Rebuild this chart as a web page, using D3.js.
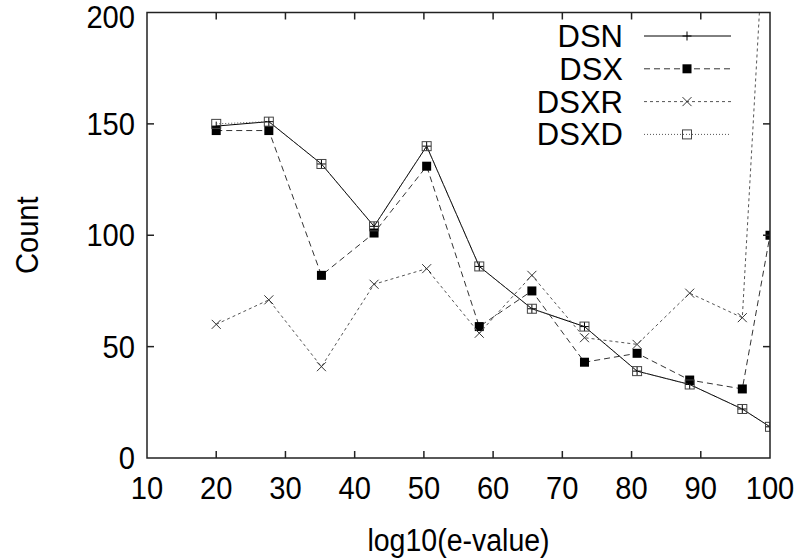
<!DOCTYPE html>
<html>
<head>
<meta charset="utf-8">
<script src="https://cdn.jsdelivr.net/npm/d3@7"></script>
<style>
  body { margin: 0; background: #fff; }
  text { font-family: "Liberation Sans", Arial, sans-serif; fill: #000; }
</style>
</head>
<body>
<div id="chart"></div>
<script>
// data
const xs = [20, 27.6, 35.2, 42.8, 50.4, 58, 65.6, 73.2, 80.8, 88.4, 96, 100];
const dsn  = [149, 151, 132, 104, 140, 86, 67, 59, 39, 33, 22, 14];
const dsx  = [147, 147, 82, 101, 131, 59, 75, 43, 47, 35, 31, 100];
const dsxr = [60, 71, 41, 78, 85, 56, 82, 54, 51, 74, 63, 285];
const dsxd = [150, 151, 132, 104, 140, 86, 67, 59, 39, 33, 22, 14];
const xTicks = [10, 20, 30, 40, 50, 60, 70, 80, 90, 100];
const yTicks = [0, 50, 100, 150, 200];

const W = 800, H = 558;
const m = { left: 147, right: 30, top: 12.5, bottom: 100 };

const svg = d3.select("#chart").append("svg")
    .attr("width", W)
    .attr("height", H);

const x = d3.scaleLinear().domain([10, 100]).range([m.left, W - m.right]);
const y = d3.scaleLinear().domain([0, 200]).range([H - m.bottom, m.top]);

svg.append("clipPath").attr("id", "clip")
    .append("rect")
    .attr("x", m.left).attr("y", m.top)
    .attr("width", x.range()[1] - m.left)
    .attr("height", y.range()[0] - m.top);

const series = [
    { name: "DSN",  vals: dsn,  color: "#000", dash: null,  mark: "plus" },
    { name: "DSX",  vals: dsx,  color: "#333", dash: "6,4", mark: "fill" },
    { name: "DSXR", vals: dsxr, color: "#555", dash: "3,3", mark: "cross" },
    { name: "DSXD", vals: dsxd, color: "#555", dash: "1,2", mark: "box" }
];

function marker(g, kind, cx, cy) {
    const s = 4.5;
    if (kind === "plus") {
        g.append("path").attr("d", `M${cx - s},${cy}H${cx + s}M${cx},${cy - s}V${cy + s}`)
            .attr("stroke", "#000").attr("stroke-width", 1).attr("fill", "none");
    } else if (kind === "fill") {
        g.append("rect").attr("x", cx - s).attr("y", cy - s).attr("width", 2 * s).attr("height", 2 * s)
            .attr("fill", "#000");
    } else if (kind === "cross") {
        g.append("path").attr("d", `M${cx - s},${cy - s}L${cx + s},${cy + s}M${cx - s},${cy + s}L${cx + s},${cy - s}`)
            .attr("stroke", "#333").attr("stroke-width", 1).attr("fill", "none");
    } else {
        g.append("rect").attr("x", cx - s).attr("y", cy - s).attr("width", 2 * s).attr("height", 2 * s)
            .attr("fill", "none").attr("stroke", "#444").attr("stroke-width", 1);
    }
}

const plot = svg.append("g").attr("clip-path", "url(#clip)");
const line = d3.line().x(d => x(d[0])).y(d => y(d[1]));

series.forEach(s => {
    const pts = xs.map((v, i) => [v, s.vals[i]]);
    plot.append("path")
        .attr("d", line(pts))
        .attr("fill", "none")
        .attr("stroke", s.color)
        .attr("stroke-width", 1)
        .attr("stroke-dasharray", s.dash);
    const mg = plot.append("g");
    pts.forEach(p => marker(mg, s.mark, x(p[0]), y(p[1])));
});

// frame and mirrored inward ticks
const x0 = x.range()[0], x1 = x.range()[1], y0 = y.range()[0], y1 = y.range()[1];
svg.append("rect")
    .attr("x", x0).attr("y", y1)
    .attr("width", x1 - x0).attr("height", y0 - y1)
    .attr("fill", "none").attr("stroke", "#222").attr("stroke-width", 1.5);

const tk = 7;
const ticks = svg.append("g").attr("stroke", "#222").attr("stroke-width", 1.5);
xTicks.slice(1, -1).forEach(t => {
    ticks.append("line").attr("x1", x(t)).attr("x2", x(t)).attr("y1", y0).attr("y2", y0 - tk);
    ticks.append("line").attr("x1", x(t)).attr("x2", x(t)).attr("y1", y1).attr("y2", y1 + tk);
});
yTicks.slice(1, -1).forEach(t => {
    ticks.append("line").attr("x1", x0).attr("x2", x0 + tk).attr("y1", y(t)).attr("y2", y(t));
    ticks.append("line").attr("x1", x1).attr("x2", x1 - tk).attr("y1", y(t)).attr("y2", y(t));
});

// gnuplot-style text: a bit narrower than the plain font
const fs = 31, sx = 0.94;
function label(g, tx, ty, str, anchor, rot, size, stretch) {
    g.append("text")
        .attr("transform", `translate(${tx},${ty})${rot ? " rotate(-90)" : ""} scale(${stretch || sx},1)`)
        .attr("text-anchor", anchor)
        .style("font-size", (size || fs) + "px")
        .text(str);
}

const tg = svg.append("g");
xTicks.forEach(d => label(tg, x(d), y0 + 41, d, "middle"));
yTicks.forEach(d => label(tg, x0 - 12, Math.max(y(d) + 11, 28), d, "end"));
label(tg, (x0 + x1) / 2, 551, "log10(e-value)", "middle", false, 31, 0.92);
label(tg, 38, (y0 + y1) / 2, "Count", "middle", true);

// legend
const lg = svg.append("g");
series.forEach((s, i) => {
    const ly = 36 + i * 32.8;
    label(lg, 623, ly + 11, s.name, "end", false, 31, 1);
    lg.append("line")
        .attr("x1", 644).attr("x2", 731).attr("y1", ly).attr("y2", ly)
        .attr("stroke", s.color).attr("stroke-width", 1)
        .attr("stroke-dasharray", s.dash);
    marker(lg, s.mark, 687, ly);
});
</script>
</body>
</html>
